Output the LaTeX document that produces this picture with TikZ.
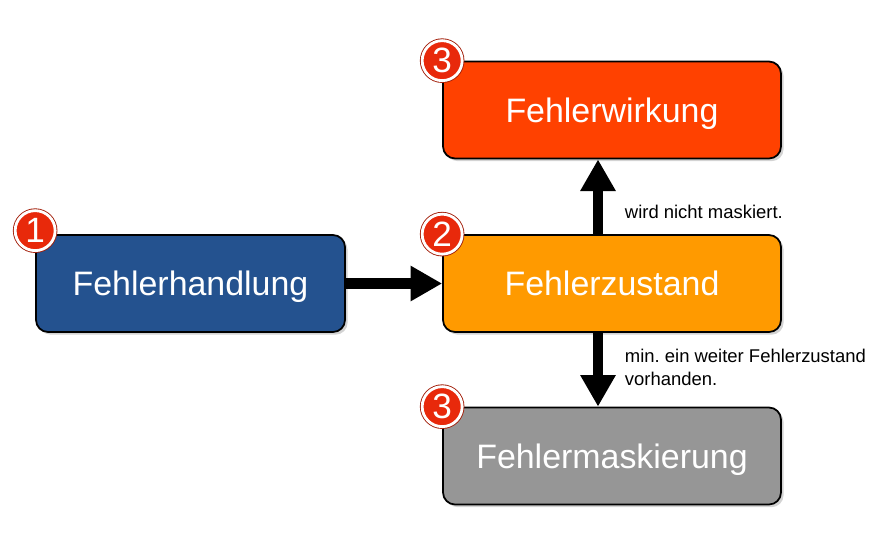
\documentclass[tikz,border=0pt]{standalone}
\usepackage{fontspec}
\setmainfont{Liberation Sans}
\usetikzlibrary{arrows.meta,shadows}
\definecolor{handlungblue}{HTML}{24528F}
\definecolor{zustandorange}{HTML}{FF9A00}
\definecolor{wirkungred}{HTML}{FF4100}
\definecolor{maskgray}{HTML}{969696}
\definecolor{badgered}{HTML}{E8290B}
\def\colx{612}
\def\shaft{0.28cm}

\begin{document}
\frenchspacing
\begin{tikzpicture}[x=0.02cm, y=-0.02cm,
    box/.style={draw, rounded corners=0.24cm, line width=1pt,
        minimum width=6.76cm, minimum height=1.94cm, text=white,
        text depth=0pt, font=\fontsize{19.3}{22}\selectfont,
        drop shadow={shadow xshift=1.5pt, shadow yshift=-1.5pt, opacity=0.35}},
    badge/.style={circle, fill=badgered, draw=white, line width=1.6pt,
        minimum size=0.8cm, inner sep=0pt, text=white,
        font=\fontsize{20}{20}\selectfont,
        preaction={draw=badgered!70!black, line width=2.6pt}},
    flow/.style={line width=6pt, -{Triangle[length=18pt, width=19pt]}},
    note/.style={font=\fontsize{10.5}{13}\selectfont, align=left, right=9pt}]

    \useasboundingbox (0,0) rectangle (895,556);

    \node[box, fill=handlungblue, minimum width=6.18cm] (handlung) at (190.5, 283.5) {Fehlerhandlung};
    \node[box, fill=zustandorange] (zustand) at (\colx, 283.5) {Fehlerzustand};
    \node[box, fill=wirkungred] (wirkung) at (\colx, 110) {Fehlerwirkung};
    \node[box, fill=maskgray] (maskierung) at (\colx, 456) {Fehlermaskierung};

    \node[badge] (nr1) at ([yshift=2pt]handlung.north west) {1};
    \node[badge] (nr2) at (zustand.north west) {2};
    \node[badge] (nr3a) at (wirkung.north west) {3};
    \node[badge] (nr3b) at (maskierung.north west) {3};

    \draw[flow] (handlung.east) -- (zustand.west);
    \draw[flow] ([xshift=-\shaft]zustand.north) -- node[note, pos=0.3] {wird nicht maskiert.} ([xshift=-\shaft]wirkung.south);
    \draw[flow] ([xshift=-\shaft]zustand.south) -- node[note, pos=0.47] {min. ein weiter Fehlerzustand\\vorhanden.} ([xshift=-\shaft]maskierung.north);

\end{tikzpicture}
\end{document}
